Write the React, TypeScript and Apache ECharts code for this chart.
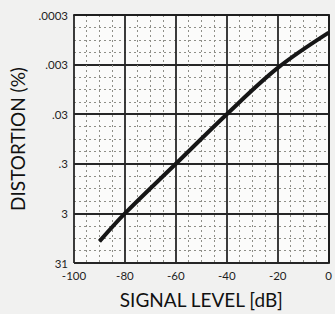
import React, { useEffect, useRef } from "react";
import * as echarts from "echarts";

const yTickLabels = [".0003", ".003", ".03", ".3", "3", "31"];
const baseDistortion = 0.0003;
const signalLevel = [-90, -80, -60, -40, -20, 0];
const distortion = [11, 3, 0.3, 0.03, 0.0035, 0.00068];

export default function App() {
  const ref = useRef<HTMLDivElement>(null);
  useEffect(() => {
    if (!ref.current) return;
    const chart = echarts.init(ref.current, undefined, { renderer: "svg" });
    const data = signalLevel.map((x, i) => [x, Math.log10(distortion[i] / baseDistortion)]);
    const font = "Lato, 'Open Sans', sans-serif";
    chart.setOption({
      animation: false,
      backgroundColor: "#f1f1f0",
      grid: { left: 69, top: 15, width: 265, height: 258, show: true, backgroundColor: "#fbfbfa", borderWidth: 0 },
      xAxis: {
        type: "value",
        min: -100,
        max: 0,
        interval: 20,
        name: "SIGNAL LEVEL [dB]",
        nameLocation: "middle",
        nameGap: 27,
        nameTextStyle: { fontFamily: font, fontSize: 19, color: "#111" },
        axisLine: { show: true, lineStyle: { color: "#1e1e1e", width: 2 } },
        axisTick: { show: false },
        axisLabel: { fontFamily: font, fontSize: 11.5, color: "#1e1e1e", margin: 6 },
        splitLine: { show: true, lineStyle: { color: "#262626", width: 1.8 } },
        minorTick: { show: false, splitNumber: 4 },
        minorSplitLine: { show: true, lineStyle: { color: "#8f8f88", width: 1, type: [2, 3] } },
      },
      yAxis: {
        type: "value",
        min: 0,
        max: 5,
        interval: 1,
        inverse: true,
        name: "DISTORTION (%)",
        nameLocation: "middle",
        nameGap: 47,
        nameRotate: 90,
        nameTextStyle: { fontFamily: font, fontSize: 19, color: "#111" },
        axisLine: { show: true, lineStyle: { color: "#1e1e1e", width: 2 } },
        axisTick: { show: false },
        axisLabel: {
          fontFamily: font,
          fontSize: 11.5,
          color: "#1e1e1e",
          margin: 6,
          formatter: (v: number) => yTickLabels[Math.round(v)] ?? "",
        },
        splitLine: { show: true, lineStyle: { color: "#262626", width: 1.8 } },
        minorTick: { show: false, splitNumber: 4 },
        minorSplitLine: { show: true, lineStyle: { color: "#8f8f88", width: 1, type: [2, 3] } },
      },
      series: [
        {
          type: "line",
          data,
          smooth: 0.35,
          showSymbol: false,
          lineStyle: { color: "#161616", width: 4 },
        },
      ],
    });
    return () => chart.dispose();
  }, []);
  return (
    <div
      ref={ref}
      style={{ position: "fixed", left: 0, top: 0, width: 335, height: 314 }}
    />
  );
}
